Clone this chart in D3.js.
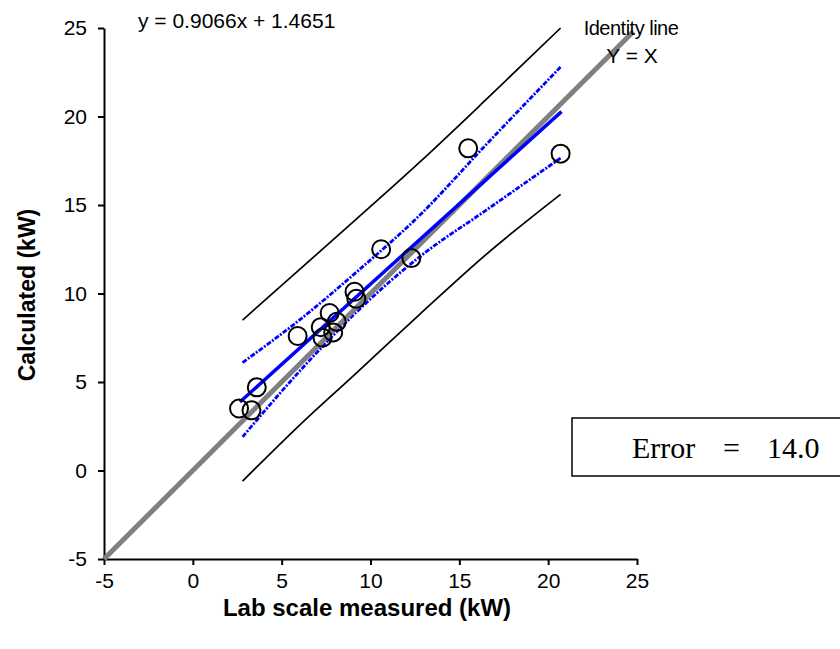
<!DOCTYPE html>
<html>
<head>
<meta charset="utf-8">
<script src="https://cdn.jsdelivr.net/npm/d3@7"></script>
<style>
  body { margin: 0; background: #fff; }
  svg { display: block; }
</style>
</head>
<body>
<div class="chart"></div>
<script>
'use strict';

// scatter points
var measured   = [2.6, 3.3, 3.6, 5.9, 7.2, 7.3, 7.7, 8.1, 7.9, 9.1, 9.2, 10.6, 12.3, 15.5, 20.7];
var calculated = [3.5, 3.4, 4.7, 7.6, 8.1, 7.5, 8.9, 8.4, 7.8, 10.1, 9.7, 12.5, 12.0, 18.2, 17.9];

// fitted line (from the printed equation) and its x span
var slope = 0.9066, intercept = 1.4651;
var fitRange = [2.65, 20.75];

// band curves sampled at these x values
var bandX     = [2.8, 6.0, 9.2, 12.8, 16.5, 20.7];
var upperPred = [8.5, 11.35, 14.2, 17.45, 20.95, 25.0];
var lowerPred = [-0.6, 2.55, 5.5, 8.85, 12.2, 15.6];
var upperConf = [6.1, 8.5, 11.2, 14.45, 18.4, 22.8];
var lowerConf = [1.9, 5.6, 8.94, 12.1, 14.7, 17.65];

var xTicks = [-5, 0, 5, 10, 15, 20, 25];
var yTicks = [-5, 0, 5, 10, 15, 20, 25];
var identityRange = [-5, 24.8];
var errorValue = "14.0";

var width = 840, height = 649;
var sans = "'Liberation Sans', Arial, Helvetica, sans-serif";
var serif = "'Liberation Serif', 'Times New Roman', serif";

var svg = d3.select(".chart").append("svg")
    .attr("width", width)
    .attr("height", height);

var x = d3.scaleLinear().domain([-5, 25]).range([104, 637]);
var y = d3.scaleLinear().domain([-5, 25]).range([559, 28]);

// axes (plain hyphen for negatives, like the original)
var fmt = d => String(d);
var xAxis = svg.append("g")
    .attr("transform", "translate(0," + y(-5) + ")")
    .call(d3.axisBottom(x).tickValues(xTicks).tickSize(6).tickSizeOuter(0).tickPadding(8).tickFormat(fmt));
var yAxis = svg.append("g")
    .attr("transform", "translate(" + x(-5) + ",0)")
    .call(d3.axisLeft(y).tickValues(yTicks).tickSize(6).tickSizeOuter(0).tickPadding(11).tickFormat(fmt));

[xAxis, yAxis].forEach(function(a) {
    a.select(".domain").attr("stroke", "#000").attr("stroke-width", 2);
    a.selectAll(".tick line").attr("stroke", "#000").attr("stroke-width", 2);
    a.selectAll(".tick text")
        .attr("fill", "#000")
        .attr("font-family", sans)
        .attr("font-size", "21px");
});

var line = d3.line()
    .x(d => x(d[0]))
    .y(d => y(d[1]));
var bandLine = d3.line()
    .x(d => x(d[0]))
    .y(d => y(d[1]))
    .curve(d3.curveMonotoneX);

// prediction bands (black)
[upperPred, lowerPred].forEach(function(vals) {
    svg.append("path")
        .datum(bandX.map((bx, i) => [bx, vals[i]]))
        .attr("d", bandLine)
        .attr("fill", "none")
        .attr("stroke", "#000")
        .attr("stroke-width", 1.7);
});

// confidence bands (blue, dashed)
[upperConf, lowerConf].forEach(function(vals) {
    svg.append("path")
        .datum(bandX.map((bx, i) => [bx, vals[i]]))
        .attr("d", bandLine)
        .attr("fill", "none")
        .attr("stroke", "#0000ff")
        .attr("stroke-width", 2.8)
        .attr("stroke-dasharray", "5,1.5,2,1.5");
});

// identity line
svg.append("path")
    .datum(identityRange.map(v => [v, v]))
    .attr("d", line)
    .attr("stroke", "#808080")
    .attr("stroke-width", 5)
    .attr("fill", "none");

// regression line
svg.append("path")
    .datum(fitRange.map(v => [v, slope * v + intercept]))
    .attr("d", line)
    .attr("stroke", "#0000ff")
    .attr("stroke-width", 3.5)
    .attr("fill", "none");

// points
svg.append("g").selectAll("circle")
    .data(measured.map((m, i) => [m, calculated[i]]))
    .enter().append("circle")
    .attr("cx", d => x(d[0]))
    .attr("cy", d => y(d[1]))
    .attr("r", 9)
    .attr("fill", "none")
    .attr("stroke", "#000")
    .attr("stroke-width", 2);

// labels
svg.append("text")
    .attr("x", 138).attr("y", 28)
    .attr("font-family", sans).attr("font-size", "21px")
    .text("y = " + slope + "x + " + intercept);

svg.append("text")
    .attr("x", 631).attr("y", 35)
    .attr("text-anchor", "middle")
    .attr("font-family", sans).attr("font-size", "20px")
    .attr("letter-spacing", "-0.5px")
    .text("Identity line");
svg.append("text")
    .attr("x", 632).attr("y", 63)
    .attr("text-anchor", "middle")
    .attr("font-family", sans).attr("font-size", "21px")
    .text("Y = X");

svg.append("text")
    .attr("x", 367).attr("y", 616)
    .attr("text-anchor", "middle")
    .attr("font-family", sans).attr("font-size", "24px").attr("font-weight", "bold")
    .text("Lab scale measured (kW)");

svg.append("text")
    .attr("transform", "translate(35,295) rotate(-90)")
    .attr("text-anchor", "middle")
    .attr("font-family", sans).attr("font-size", "23px").attr("font-weight", "bold")
    .text("Calculated (kW)");

// error box
svg.append("rect")
    .attr("x", 572).attr("y", 418)
    .attr("width", 300).attr("height", 58)
    .attr("fill", "#fff")
    .attr("stroke", "#000")
    .attr("stroke-width", 1.5);
var errText = svg.append("g")
    .attr("font-family", serif).attr("font-size", "30px");
errText.append("text").attr("x", 632).attr("y", 458).text("Error");
errText.append("text").attr("x", 723).attr("y", 458).text("=");
errText.append("text").attr("x", 767).attr("y", 458).text(errorValue);
</script>
</body>
</html>
